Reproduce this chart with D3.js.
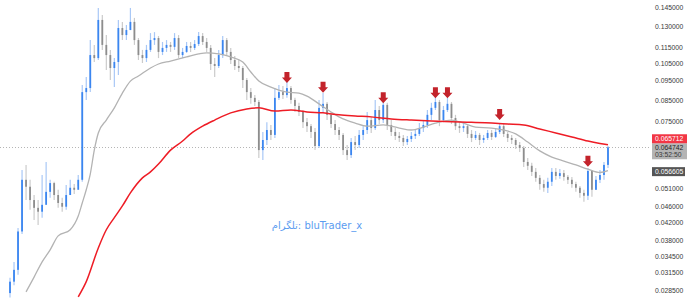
<!DOCTYPE html>
<html><head><meta charset="utf-8">
<script src="https://cdn.jsdelivr.net/npm/d3@7"></script>
<style>body{margin:0;background:#fff;overflow:hidden}svg{display:block}</style>
</head><body><svg id="c" width="690" height="298"></svg>
<script>
// ---------- data ----------
const open0 = 0.0280;
const closes = [
0.0299,0.0320,0.0399,0.0537,0.0516,0.0478,0.0457,0.0447,0.0465,0.0501,
0.0527,0.0492,0.0470,0.0460,0.0492,0.0513,0.0507,0.0537,0.0889,0.0910,
0.1100,0.1081,0.1346,0.1166,0.1100,0.1021,0.1057,0.1285,0.1234,0.1270,
0.1331,0.1199,0.1100,0.1081,0.1133,0.1199,0.1213,0.1120,0.1146,0.1166,
0.1153,0.1213,0.1100,0.1120,0.1159,0.1146,0.1172,0.1227,0.1186,0.1146,
0.1045,0.1033,0.1100,0.1199,0.1120,0.1069,0.1033,0.1021,0.0953,0.0889,
0.0860,0.0840,0.0637,0.0675,0.0715,0.0695,0.0860,0.0889,0.0874,0.0910,
0.0850,0.0821,0.0793,0.0748,0.0731,0.0707,0.0652,0.0812,0.0831,0.0780,
0.0740,0.0715,0.0695,0.0637,0.0619,0.0667,0.0656,0.0695,0.0715,0.0757,
0.0723,0.0802,0.0757,0.0826,0.0736,0.0707,0.0691,0.0683,0.0667,0.0679,
0.0691,0.0699,0.0723,0.0736,0.0780,0.0812,0.0840,0.0757,0.0802,0.0831,
0.0766,0.0731,0.0723,0.0731,0.0699,0.0683,0.0695,0.0675,0.0683,0.0703,
0.0687,0.0707,0.0731,0.0699,0.0683,0.0675,0.0656,0.0645,0.0595,0.0582,
0.0562,0.0543,0.0524,0.0513,0.0531,0.0562,0.0549,0.0558,0.0546,0.0537,
0.0524,0.0513,0.0498,0.0490,0.0565,0.0507,0.0537,0.0552,0.0585,0.064742];
const highs = [
0.0306,0.0335,0.0407,0.0568,0.0585,0.0537,0.0492,0.0478,0.0552,0.0595,
0.0537,0.0531,0.0507,0.0484,0.0521,0.0537,0.0524,0.0552,0.0926,0.0970,
0.1199,0.1166,0.1442,0.1385,0.1234,0.1133,0.1081,0.1346,0.1331,0.1307,
0.1442,0.1362,0.1213,0.1133,0.1166,0.1248,0.1255,0.1227,0.1186,0.1199,
0.1186,0.1248,0.1234,0.1146,0.1186,0.1186,0.1199,0.1255,0.1248,0.1213,
0.1166,0.1081,0.1133,0.1227,0.1213,0.1146,0.1094,0.1069,0.1033,0.0964,
0.0910,0.0874,0.0850,0.0707,0.0748,0.0736,0.0910,0.0926,0.0921,0.0942,
0.0921,0.0860,0.0836,0.0802,0.0766,0.0740,0.0723,0.0850,0.0884,0.0840,
0.0793,0.0757,0.0727,0.0703,0.0656,0.0683,0.0691,0.0715,0.0736,0.0793,
0.0771,0.0850,0.0821,0.0860,0.0836,0.0757,0.0723,0.0707,0.0695,0.0691,
0.0707,0.0715,0.0744,0.0757,0.0802,0.0836,0.0864,0.0850,0.0821,0.0860,
0.0840,0.0780,0.0748,0.0748,0.0740,0.0715,0.0711,0.0703,0.0695,0.0715,
0.0715,0.0719,0.0744,0.0740,0.0707,0.0695,0.0683,0.0667,0.0652,0.0609,
0.0592,0.0575,0.0552,0.0537,0.0543,0.0575,0.0575,0.0571,0.0568,0.0552,
0.0546,0.0531,0.0518,0.0507,0.0575,0.0568,0.0549,0.0568,0.0595,0.0652];
const lows = [
0.0273,0.0293,0.0311,0.0393,0.0478,0.0452,0.0426,0.0414,0.0432,0.0478,
0.0484,0.0478,0.0457,0.0447,0.0452,0.0492,0.0495,0.0518,0.0531,0.0850,
0.0889,0.1057,0.1069,0.1133,0.1009,0.0953,0.0915,0.0981,0.1199,0.1199,
0.1270,0.1166,0.1069,0.1051,0.1057,0.1120,0.1166,0.1081,0.1100,0.1120,
0.1120,0.1133,0.1081,0.1081,0.1114,0.1120,0.1133,0.1159,0.1166,0.1120,
0.1009,0.0970,0.1021,0.1081,0.1094,0.1045,0.1009,0.0998,0.0910,0.0850,
0.0831,0.0821,0.0609,0.0602,0.0656,0.0675,0.0683,0.0850,0.0855,0.0860,
0.0831,0.0793,0.0775,0.0723,0.0707,0.0683,0.0637,0.0645,0.0793,0.0757,
0.0723,0.0695,0.0675,0.0619,0.0602,0.0609,0.0637,0.0645,0.0675,0.0699,
0.0703,0.0715,0.0740,0.0744,0.0715,0.0691,0.0675,0.0667,0.0652,0.0656,
0.0667,0.0679,0.0691,0.0707,0.0723,0.0757,0.0802,0.0731,0.0748,0.0793,
0.0740,0.0715,0.0703,0.0707,0.0683,0.0667,0.0675,0.0656,0.0664,0.0675,
0.0675,0.0683,0.0699,0.0687,0.0667,0.0660,0.0641,0.0630,0.0578,0.0568,
0.0549,0.0531,0.0507,0.0501,0.0498,0.0518,0.0537,0.0540,0.0534,0.0524,
0.0513,0.0501,0.0484,0.0473,0.0478,0.0487,0.0507,0.0527,0.0537,0.0575];

// moving averages (candle index, price)
const maGreyIdx = [4,6,8,10,12,15,17,18,19,20,21,22,24,26,28,30,32,35,37,40,44,47,49,52,55,58,60,62,65,69,72,74,77,80,83,86,89,93,97,100,103,106,110,113,116,120,123,126,129,132,135,138,141,144,147,149];
const maGrey    = [0.0282,0.0307,0.0335,0.0359,0.0389,0.0403,0.0436,0.0470,0.0507,0.0555,0.0637,0.0703,0.0757,0.0812,0.0884,0.0947,0.0975,0.1021,0.1045,0.1063,0.1088,0.1107,0.1114,0.1107,0.1088,0.1057,0.0998,0.0947,0.0915,0.0889,0.0884,0.0869,0.0831,0.0793,0.0762,0.0744,0.0731,0.0736,0.0723,0.0715,0.0727,0.0744,0.0757,0.0744,0.0727,0.0723,0.0715,0.0699,0.0667,0.0634,0.0612,0.0598,0.0585,0.0571,0.0560,0.056605];
const maRedIdx = [17,19,22,24,26,28,30,33,35,37,40,43,45,48,51,55,59,62,66,70,74,78,82,86,90,95,100,105,110,115,120,124,128,132,136,140,144,147,149];
const maRed    = [0.0274,0.0299,0.0363,0.0403,0.0432,0.0462,0.0498,0.0543,0.0562,0.0588,0.0637,0.0671,0.0699,0.0731,0.0757,0.0789,0.0807,0.0812,0.0797,0.0802,0.0793,0.0789,0.0780,0.0775,0.0771,0.0762,0.0757,0.0753,0.0750,0.0748,0.0744,0.0740,0.0736,0.0719,0.0703,0.0687,0.0671,0.0662,0.065712];

const tickValues = [0.145,0.130,0.115,0.105,0.095,0.085,0.075,0.051,0.046,0.042,0.038,0.0345,0.0315,0.0285];
const arrowIdx = [69,78,93,106,109,122,144];
const arrowTip = [0.0937,0.0886,0.0834,0.0858,0.0858,0.0757,0.0579];
const lastPrice = 0.064742, redLast = 0.065712, greyLast = 0.056605, countdown = "03:52:50";
const watermark = "تلگرام: bluTrader_x";

// ---------- drawing ----------
const svg = d3.select("#c");
const n = closes.length;
const x = d3.scaleBand().domain(d3.range(n)).range([8, 610]);
const bw = x.bandwidth();
const cx = i => x(i) + bw / 2;
const y = d3.scaleLog().domain([0.0285, 0.145]).range([290, 7]);

svg.append("defs").append("clipPath").attr("id","clip")
  .append("rect").attr("x",0).attr("y",0).attr("width",650).attr("height",298);
const plot = svg.append("g").attr("clip-path","url(#clip)");

// last price dotted line
plot.append("line").attr("x1",0).attr("x2",652)
  .attr("y1",Math.round(y(lastPrice))+0.5).attr("y2",Math.round(y(lastPrice))+0.5)
  .attr("stroke","#b5b5b5").attr("stroke-width",1).attr("stroke-dasharray","1,2");

// watermark
svg.append("text").attr("x",317).attr("y",229).attr("text-anchor","middle")
  .attr("font-family","'DejaVu Sans','Noto Sans',sans-serif").attr("font-size",10)
  .attr("fill","#5b9cf0").text(watermark);

const candles = d3.range(n).map(i => ({
  i, o: i === 0 ? open0 : closes[i-1], c: closes[i], h: highs[i], l: lows[i]
}));
const cg = plot.append("g");
cg.selectAll("line.w").data(candles).join("line").attr("class","w")
  .attr("x1",d=>cx(d.i)).attr("x2",d=>cx(d.i))
  .attr("y1",d=>y(d.h)).attr("y2",d=>y(d.l))
  .attr("stroke",d=>d.c>=d.o?"#a9c8f6":"#cbcbcb").attr("stroke-width",1.2);
cg.selectAll("rect.b").data(candles).join("rect").attr("class","b")
  .attr("x",d=>cx(d.i)-0.9).attr("width",1.8)
  .attr("y",d=>y(Math.max(d.o,d.c)))
  .attr("height",d=>Math.max(1,Math.abs(y(d.o)-y(d.c))))
  .attr("fill",d=>d.c>=d.o?"#3b86f0":"#8d8d8d");

// MAs
const line = d3.line().curve(d3.curveMonotoneX);
plot.append("path").datum(maGreyIdx.map((k,j)=>[cx(k),y(maGrey[j])]))
  .attr("d",line).attr("fill","none").attr("stroke","#b3b3b3").attr("stroke-width",1.3);
plot.append("path").datum(maRedIdx.map((k,j)=>[cx(k),y(maRed[j])]))
  .attr("d",line).attr("fill","none").attr("stroke","#ee1c25").attr("stroke-width",1.5);

// arrows
plot.selectAll("path.arr").data(arrowIdx.map((k,j)=>({x:cx(k),y:y(arrowTip[j])})))
  .join("path").attr("class","arr")
  .attr("transform",d=>`translate(${d.x},${d.y})`)
  .attr("d","M-2.5,-11 L2.5,-11 L2.5,-5.5 L5,-5.5 L0,0 L-5,-5.5 L-2.5,-5.5 Z")
  .attr("fill","#c3232b");

// right axis
const axis = d3.axisRight(y).tickValues(tickValues).tickFormat(d3.format(".6f"))
  .tickSize(0).tickPadding(0);
const ag = svg.append("g").attr("transform","translate(655,0)").call(axis);
ag.select(".domain").remove();
ag.selectAll("text").attr("font-family","'Liberation Sans',Arial,sans-serif")
  .attr("font-size",6.8).attr("fill","#3a3a3a");

// price labels
const lab = svg.append("g").attr("font-family","'Liberation Sans',Arial,sans-serif").attr("font-size",6.8);
const yl = y(lastPrice);
lab.append("rect").attr("x",652).attr("y",yl-4).attr("width",35).attr("height",16).attr("fill","#b4b4b4");
lab.append("text").attr("x",655).attr("y",yl+2.3).attr("fill","#1e1e1e").text(d3.format(".6f")(lastPrice));
lab.append("text").attr("x",655).attr("y",yl+9.8).attr("fill","#3a3a3a").text(countdown);
lab.append("rect").attr("x",652).attr("y",yl-13).attr("width",35).attr("height",9).attr("fill","#f23645");
lab.append("text").attr("x",655).attr("y",yl-6.2).attr("fill","#ffffff").text(d3.format(".6f")(redLast));
const yg = y(greyLast);
lab.append("rect").attr("x",652).attr("y",yg-3.5).attr("width",33).attr("height",9).attr("fill","#555555");
lab.append("text").attr("x",655).attr("y",yg+3.3).attr("fill","#ffffff").text(d3.format(".6f")(greyLast));
</script></body></html>
